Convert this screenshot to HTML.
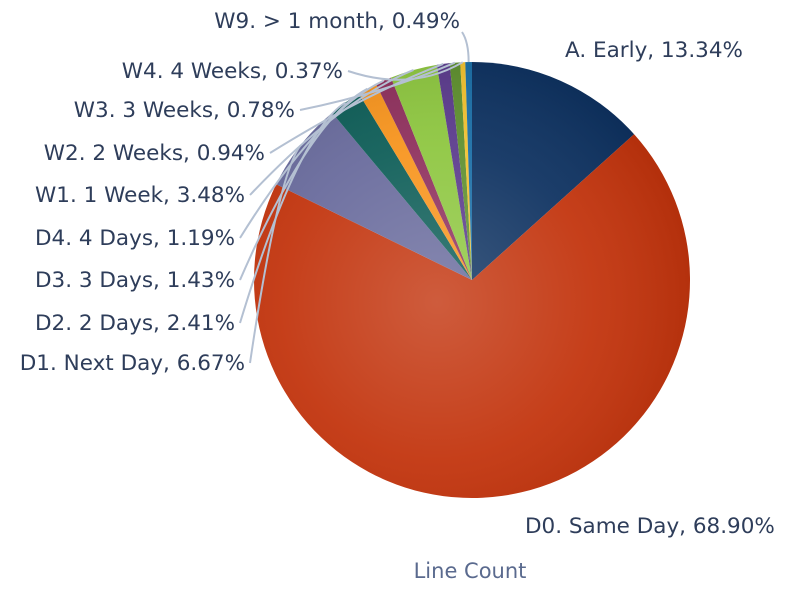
<!DOCTYPE html>
<html><head><meta charset="utf-8"><style>
body{margin:0;background:#fff;}
svg{display:block;font-family:"DejaVu Sans","Liberation Sans",sans-serif;}
</style></head><body>
<svg width="789" height="592" viewBox="0 0 789 592">
<defs>
<radialGradient id="shade" cx="0.42" cy="0.55" r="0.6">
<stop offset="0" stop-color="#fff" stop-opacity="0.2"/>
<stop offset="0.6" stop-color="#fff" stop-opacity="0.06"/>
<stop offset="1" stop-color="#000" stop-opacity="0.08"/>
</radialGradient>
</defs>
<g id="slices"></g>
<g id="leaders"></g>
<g id="labels"></g>
<text x="470" y="578" text-anchor="middle" font-size="21" fill="#5a6a8e">Line Count</text>
</svg>
<script>
const categories=["A. Early","D0. Same Day","D1. Next Day","D2. 2 Days","D3. 3 Days","D4. 4 Days","W1. 1 Week","W2. 2 Weeks","W3. 3 Weeks","W4. 4 Weeks","W9. > 1 month"];
const values=[13.34,68.90,6.67,2.41,1.43,1.19,3.48,0.94,0.78,0.37,0.49];
const colors=["#0d3160","#c2330c","#686a9c","#0d5d57","#f7941d","#8e2f5c","#8dc63f","#5a3a8c","#5e8f2e","#f2c12e","#1a6ea6"];
const labelPos=[[565,57,"start"],[525,533,"start"],[245,370,"end"],[235,330,"end"],[235,287,"end"],[235,245,"end"],[245,202,"end"],[265,160,"end"],[295,117,"end"],[343,78,"end"],[460,28,"end"]];
const cx=472,cy=280,R=218;
const ns="http://www.w3.org/2000/svg";
const total=values.reduce((a,b)=>a+b,0);
function pt(a,r){return [cx+r*Math.sin(a),cy-r*Math.cos(a)];}
const gS=document.getElementById('slices'),gL=document.getElementById('leaders'),gT=document.getElementById('labels');
let a0=0;
values.forEach((v,i)=>{
  const a1=a0+v/total*2*Math.PI;
  const p0=pt(a0,R),p1=pt(a1,R);
  const large=(a1-a0)>Math.PI?1:0;
  const p=document.createElementNS(ns,'path');
  p.setAttribute('d',`M${cx},${cy}L${p0[0]},${p0[1]}A${R},${R} 0 ${large} 1 ${p1[0]},${p1[1]}Z`);
  p.setAttribute('fill',colors[i]);
  
  
  gS.appendChild(p);
  const am=(a0+a1)/2;
  const e=pt(am,R);
  const lp=labelPos[i];
  if(i>=2){
    const sx=lp[0]+(i==10?2:5), sy=lp[1]-(i==10?-4:7);
    const l=document.createElementNS(ns,'path');
    const c=i==10?[e[0],sy+10]:[sx+(e[0]-sx)*0.55,e[1]+30];
    l.setAttribute('d',`M${sx},${sy}Q${c[0]},${c[1]} ${e[0]},${e[1]}`);
    l.setAttribute('fill','none');l.setAttribute('stroke','#b4c0d2');l.setAttribute('stroke-width','2');
    
    
    gL.appendChild(l);
  }
  const t=document.createElementNS(ns,'text');
  t.setAttribute('x',lp[0]);t.setAttribute('y',lp[1]);t.setAttribute('text-anchor',lp[2]);
  t.setAttribute('font-size','21.5');t.setAttribute('fill','#2e3d5a');
  t.textContent=categories[i]+', '+values[i].toFixed(2)+'%';
  
  
  gT.appendChild(t);
  a0=a1;
});
const ov=document.createElementNS(ns,'circle');
ov.setAttribute('cx',cx);ov.setAttribute('cy',cy);ov.setAttribute('r',R);ov.setAttribute('fill','url(#shade)');ov.setAttribute('pointer-events','none');


gS.appendChild(ov);
</script>
</body></html>
